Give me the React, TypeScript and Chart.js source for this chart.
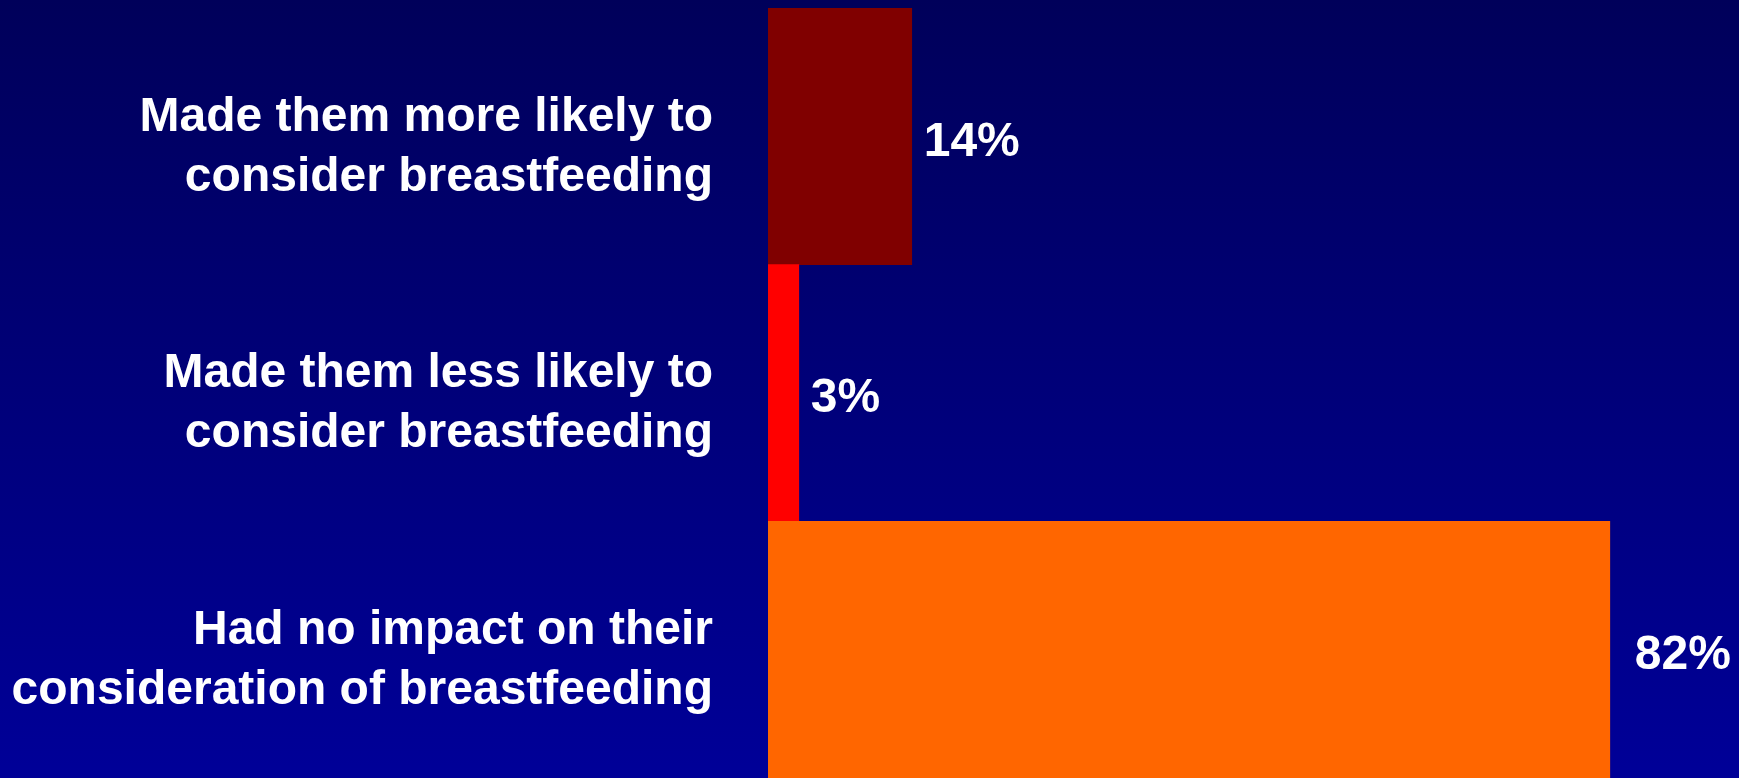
import React, { useEffect, useRef } from "react";
import { Chart, registerables } from "chart.js";

Chart.register(...registerables);

const categories: string[][] = [
  ["Made them more likely to", "consider breastfeeding"],
  ["Made them less likely to", "consider breastfeeding"],
  ["Had no impact on their", "consideration of breastfeeding"],
];
const values: number[] = [14, 3, 82];
const barColors: string[] = ["#800000", "#FF0000", "#FF6600"];
const valueLabels: string[] = ["14%", "3%", "82%"];

const FONT = '"Liberation Sans", Arial, Helvetica, sans-serif';

const bgPlugin = {
  id: "bgGradient",
  beforeDraw(chart: any) {
    const { ctx, width, height } = chart;
    const g = ctx.createLinearGradient(0, 0, 0, height);
    g.addColorStop(0, "#00005A");
    g.addColorStop(1, "#000098");
    ctx.save();
    ctx.fillStyle = g;
    ctx.fillRect(0, 0, width, height);
    ctx.restore();
  },
};

const valueLabelPlugin = {
  id: "valueLabels",
  afterDatasetsDraw(chart: any, _args: any, opts: any) {
    const { ctx } = chart;
    const meta = chart.getDatasetMeta(0);
    const offsets: number[] = opts.offsets || [];
    ctx.save();
    ctx.fillStyle = "#FFFFFF";
    ctx.font = `bold 48px ${FONT}`;
    ctx.textAlign = "left";
    ctx.textBaseline = "middle";
    meta.data.forEach((bar: any, i: number) => {
      ctx.fillText(valueLabels[i], bar.x + (offsets[i] ?? 12), bar.y + 6);
    });
    ctx.restore();
  },
};

export default function App() {
  const canvasRef = useRef<HTMLCanvasElement | null>(null);

  useEffect(() => {
    document.body.style.margin = "0";
    document.body.style.overflow = "hidden";
    const canvas = canvasRef.current;
    if (!canvas) return;
    const chart = new Chart(canvas, {
      type: "bar",
      data: {
        labels: categories,
        datasets: [
          {
            data: values,
            backgroundColor: barColors,
            borderWidth: 0,
            barPercentage: 1,
            categoryPercentage: 1,
          },
        ],
      },
      options: {
        indexAxis: "y",
        responsive: false,
        animation: false,
        layout: { padding: { top: 8, right: 6, left: 0, bottom: 0 } },
        plugins: {
          legend: { display: false },
          tooltip: { enabled: false },
          valueLabels: { offsets: [12, 12, 25] },
        } as any,
        scales: {
          x: {
            display: false,
            min: 0,
            max: 94,
          },
          y: {
            grid: { display: false, drawTicks: false },
            border: { display: false },
            ticks: {
              color: "#FFFFFF",
              padding: 55,
              labelOffset: 11,
              font: { family: FONT, size: 48, weight: "bold", lineHeight: 1.25 },
            },
            afterFit(scale: any) {
              scale.width = 768;
              scale.paddingTop = 0;
              scale.paddingBottom = 0;
            },
          },
        },
      },
      plugins: [bgPlugin, valueLabelPlugin],
    });
    return () => chart.destroy();
  }, []);

  return (
    <div style={{ width: 1739, height: 778, overflow: "hidden" }}>
      <canvas ref={canvasRef} width={1739} height={778} style={{ display: "block" }} />
    </div>
  );
}
